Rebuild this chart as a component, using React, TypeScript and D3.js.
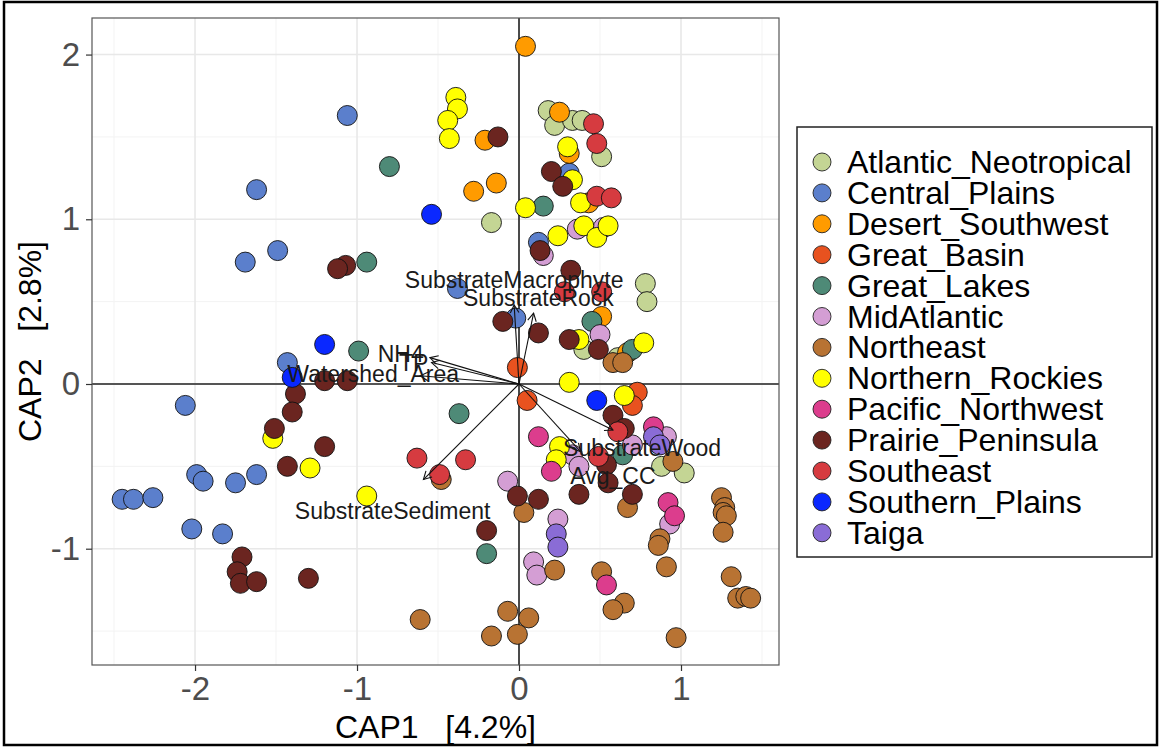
import React, { useEffect, useRef } from "react";
import * as d3 from "d3";

// CAP ordination, sites coloured by ecoregion
const regions = [
  "Atlantic_Neotropical", "Central_Plains", "Desert_Southwest", "Great_Basin",
  "Great_Lakes", "MidAtlantic", "Northeast", "Northern_Rockies",
  "Pacific_Northwest", "Prairie_Peninsula", "Southeast", "Southern_Plains", "Taiga",
];
const regionColors = [
  "#c4d594", "#5b7fcc", "#ff9b00", "#e8521f", "#4e8a77", "#d49ed4", "#b87333",
  "#ffff00", "#dc3d8d", "#6b2520", "#d63b40", "#0a28ff", "#8a6cd6",
];

// [CAP1, CAP2] per site
const atlanticNeotropical = [
  [0.18, 1.66], [0.22, 1.57], [0.33, 1.6], [0.39, 1.6], [0.51, 1.38], [-0.17, 0.98],
  [0.78, 0.61], [0.79, 0.5], [0.61, 0.16], [0.4, 0.21], [0.88, -0.5], [1.02, -0.54],
];
const centralPlains = [
  [-1.06, 1.63], [-1.62, 1.18], [-1.49, 0.81], [-1.69, 0.74], [-0.38, 0.58], [-1.43, 0.13],
  [-2.06, -0.13], [-1.99, -0.55], [-1.95, -0.59], [-1.75, -0.6], [-1.62, -0.55],
  [-2.45, -0.7], [-2.38, -0.7], [-2.26, -0.69], [-2.02, -0.88], [-1.83, -0.91],
  [0.12, 0.86], [-0.02, 0.4], [0.31, 1.28],
];
const desertSouthwest = [
  [0.04, 2.05], [-0.21, 1.48], [-0.14, 1.22], [-0.28, 1.17], [0.25, 1.65],
  [0.31, 1.4], [0.43, 1.1], [0.51, 0.41], [0.67, 0.19],
];
const greatBasin = [[-0.01, 0.1], [0.05, -0.1], [0.73, -0.05], [0.7, -0.13]];
const greatLakes = [
  [-0.8, 1.32], [-0.94, 0.74], [-0.99, 0.2], [0.15, 1.08], [-0.37, -0.18],
  [-0.2, -1.03], [0.45, 0.38], [0.64, -0.43], [0.7, 0.21],
];
const midAtlantic = [
  [0.36, 0.94], [0.52, 0.95], [0.15, 0.78], [0.5, 0.3], [0.33, -0.43], [0.37, -0.5],
  [0.7, -0.37], [0.91, -0.32], [-0.07, -0.59], [0.93, -0.85], [0.24, -0.82],
  [0.09, -1.08], [0.11, -1.16],
];
const northeast = [
  [-0.61, -1.43], [-0.48, -0.58], [0.58, 0.13], [0.64, 0.13], [0.95, -0.47], [0.03, -0.78],
  [0.67, -0.75], [0.87, -0.94], [0.86, -0.98], [1.25, -0.69], [1.27, -0.75], [1.26, -0.78],
  [1.28, -0.8], [1.26, -0.9], [0.22, -1.13], [0.51, -1.14], [0.91, -1.11], [1.31, -1.17],
  [1.35, -1.3], [1.4, -1.29], [1.43, -1.3], [0.65, -1.33], [0.58, -1.37], [-0.07, -1.38],
  [0.06, -1.42], [-0.17, -1.53], [-0.01, -1.52], [0.97, -1.54],
];
const northernRockies = [
  [-0.39, 1.74], [-0.38, 1.67], [-0.44, 1.6], [-0.43, 1.49], [0.04, 1.07], [0.3, 1.44],
  [0.33, 1.24], [0.38, 1.1], [0.4, 0.96], [0.48, 0.89], [0.55, 0.96], [0.24, 0.9],
  [0.37, 0.27], [0.77, 0.25], [0.31, 0.01], [0.65, -0.07], [0.25, -0.38], [0.23, -0.46],
  [-1.52, -0.33], [-1.29, -0.51], [-0.94, -0.68],
];
const pacificNorthwest = [
  [0.12, -0.32], [0.2, -0.53], [0.83, -0.26], [0.92, -0.72], [0.96, -0.8], [0.54, -1.22],
];
const prairiePeninsula = [
  [-1.07, 0.72], [-1.12, 0.7], [-1.2, 0.02], [-1.06, 0.02], [-1.38, -0.06], [-1.4, -0.17],
  [-1.51, -0.27], [-1.2, -0.38], [-1.43, -0.5], [-1.71, -1.05], [-1.74, -1.14],
  [-1.72, -1.21], [-1.62, -1.2], [-1.3, -1.18], [-0.13, 1.5], [0.2, 1.29], [0.27, 1.2],
  [0.13, 0.81], [0.32, 0.69], [-0.1, 0.38], [0.12, 0.31], [0.31, 0.27], [0.49, 0.21],
  [0.58, -0.19], [0.65, -0.27], [0.54, -0.49], [0.55, -0.6], [-0.01, -0.68], [0.12, -0.7],
  [0.37, -0.67], [0.7, -0.67], [-0.2, -0.89],
];
const southeast = [
  [-0.63, -0.45], [-0.49, -0.55], [-0.33, -0.46], [0.46, 1.58], [0.48, 1.46], [0.48, 1.14],
  [0.57, 1.13], [0.28, 0.56], [0.51, 0.56], [0.61, -0.29], [0.49, -0.44],
];
const southernPlains = [[-0.54, 1.03], [-1.2, 0.24], [-1.4, 0.04], [0.48, -0.1]];
const taiga = [[0.83, -0.32], [0.87, -0.37], [0.23, -0.91], [0.24, -0.99]];

const pointsByRegion = [
  atlanticNeotropical, centralPlains, desertSouthwest, greatBasin, greatLakes, midAtlantic,
  northeast, northernRockies, pacificNorthwest, prairiePeninsula, southeast, southernPlains, taiga,
];

// environmental vectors
const vectorNames = [
  "SubstrateMacrophyte", "SubstrateRock", "NH4", "TP", "Watershed_Area",
  "SubstrateSediment", "SubstrateWood", "Avg_CC",
];
const vectorTips = [
  [-0.03, 0.48], [0.09, 0.43], [-0.55, 0.16], [-0.54, 0.13], [-0.61, 0.05],
  [-0.59, -0.58], [0.58, -0.28], [0.38, -0.41],
];
const vectorLabels = [
  [-0.03, 0.63], [0.12, 0.52], [-0.73, 0.18], [-0.65, 0.13], [-0.9, 0.06],
  [-0.78, -0.77], [0.76, -0.39], [0.58, -0.56],
];

const xTicks = [-2, -1, 0, 1];
const yTicks = [-1, 0, 1, 2];
const xMinor = [-2.5, -1.5, -0.5, 0.5, 1.5];
const yMinor = [-1.5, -0.5, 0.5, 1.5];

const W = 1160;
const H = 747;
const FONT = "'Liberation Sans', Arial, sans-serif";

export default function App() {
  const ref = useRef<SVGSVGElement>(null);

  useEffect(() => {
    const svg = d3.select(ref.current);
    svg.selectAll("*").remove();

    const panel = { left: 92, right: 779, top: 18, bottom: 665 };
    const x = d3.scaleLinear().domain([-2.636, 1.605]).range([panel.left, panel.right]);
    const y = d3.scaleLinear().domain([-1.706, 2.222]).range([panel.bottom, panel.top]);

    // outer frame
    svg.append("rect")
      .attr("x", 4).attr("y", 2).attr("width", W - 7).attr("height", H - 4)
      .attr("fill", "white").attr("stroke", "black").attr("stroke-width", 2.5);

    const g = svg.append("g");

    // grid
    g.selectAll(".minx").data(xMinor).join("line")
      .attr("x1", (d) => x(d)).attr("x2", (d) => x(d))
      .attr("y1", panel.top).attr("y2", panel.bottom)
      .attr("stroke", "#f3f3f3").attr("stroke-width", 1);
    g.selectAll(".miny").data(yMinor).join("line")
      .attr("y1", (d) => y(d)).attr("y2", (d) => y(d))
      .attr("x1", panel.left).attr("x2", panel.right)
      .attr("stroke", "#f3f3f3").attr("stroke-width", 1);
    g.selectAll(".majx").data(xTicks).join("line")
      .attr("x1", (d) => x(d)).attr("x2", (d) => x(d))
      .attr("y1", panel.top).attr("y2", panel.bottom)
      .attr("stroke", "#e8e8e8").attr("stroke-width", 1.6);
    g.selectAll(".majy").data(yTicks).join("line")
      .attr("y1", (d) => y(d)).attr("y2", (d) => y(d))
      .attr("x1", panel.left).attr("x2", panel.right)
      .attr("stroke", "#e8e8e8").attr("stroke-width", 1.6);

    // zero lines
    g.append("line").attr("x1", x(0)).attr("x2", x(0))
      .attr("y1", panel.top).attr("y2", panel.bottom)
      .attr("stroke", "#222").attr("stroke-width", 1.6);
    g.append("line").attr("y1", y(0)).attr("y2", y(0))
      .attr("x1", panel.left).attr("x2", panel.right)
      .attr("stroke", "#222").attr("stroke-width", 1.6);

    // points
    pointsByRegion.forEach((pts, i) => {
      g.append("g").selectAll("circle").data(pts).join("circle")
        .attr("cx", (d) => x(d[0])).attr("cy", (d) => y(d[1]))
        .attr("r", 10)
        .attr("fill", regionColors[i])
        .attr("stroke", "#111").attr("stroke-width", 0.9);
    });

    // vectors
    vectorTips.forEach((t) => {
      const x0 = x(0), y0 = y(0), x1 = x(t[0]), y1 = y(t[1]);
      const ang = Math.atan2(y1 - y0, x1 - x0);
      const len = 9, spread = 0.5;
      const a1 = [x1 - len * Math.cos(ang - spread), y1 - len * Math.sin(ang - spread)];
      const a2 = [x1 - len * Math.cos(ang + spread), y1 - len * Math.sin(ang + spread)];
      g.append("line").attr("x1", x0).attr("y1", y0).attr("x2", x1).attr("y2", y1)
        .attr("stroke", "#111").attr("stroke-width", 1.1);
      g.append("path")
        .attr("d", `M${a1[0]},${a1[1]}L${x1},${y1}L${a2[0]},${a2[1]}`)
        .attr("fill", "none").attr("stroke", "#111").attr("stroke-width", 1.1);
    });
    g.selectAll(".vlab").data(vectorNames).join("text")
      .attr("x", (d, i) => x(vectorLabels[i][0]))
      .attr("y", (d, i) => y(vectorLabels[i][1]))
      .attr("text-anchor", "middle").attr("dominant-baseline", "central")
      .style("font-family", FONT).style("font-size", "23px").attr("fill", "#1a1a1a")
      .text((d) => d);

    // panel border
    g.append("rect")
      .attr("x", panel.left).attr("y", panel.top)
      .attr("width", panel.right - panel.left).attr("height", panel.bottom - panel.top)
      .attr("fill", "none").attr("stroke", "#555").attr("stroke-width", 1.2);

    // axes (plain hyphen minus like the original)
    const fmt = (d: any) => String(d);
    const xAxis = svg.append("g").attr("transform", `translate(0,${panel.bottom})`)
      .call(d3.axisBottom(x).tickValues(xTicks).tickSize(6).tickPadding(6).tickFormat(fmt));
    const yAxis = svg.append("g").attr("transform", `translate(${panel.left},0)`)
      .call(d3.axisLeft(y).tickValues(yTicks).tickSize(6).tickPadding(6).tickFormat(fmt));
    [xAxis, yAxis].forEach((ax) => {
      ax.select(".domain").remove();
      ax.selectAll("line").attr("stroke", "#333").attr("stroke-width", 1.2);
      ax.selectAll("text")
        .style("font-family", FONT)
        .style("font-size", "33px").attr("fill", "#4d4d4d");
    });

    svg.append("text")
      .attr("x", (panel.left + panel.right) / 2).attr("y", 727)
      .attr("text-anchor", "middle").attr("dominant-baseline", "central")
      .style("font-family", FONT).style("font-size", "32px").style("white-space", "pre")
      .text("CAP1   [4.2%]");
    svg.append("text")
      .attr("transform", `translate(30,${(panel.top + panel.bottom) / 2}) rotate(-90)`)
      .attr("text-anchor", "middle").attr("dominant-baseline", "central")
      .style("font-family", FONT).style("font-size", "32px").style("white-space", "pre")
      .text("CAP2   [2.8%]");

    // legend
    const lg = svg.append("g");
    lg.append("rect").attr("x", 797).attr("y", 127).attr("width", 355).attr("height", 430)
      .attr("fill", "white").attr("stroke", "#222").attr("stroke-width", 1.5);
    const step = 30.9;
    lg.selectAll("circle").data(regions).join("circle")
      .attr("cx", 822).attr("cy", (d, i) => 162 + i * step).attr("r", 9)
      .attr("fill", (d, i) => regionColors[i]).attr("stroke", "#222").attr("stroke-width", 0.9);
    lg.selectAll("text").data(regions).join("text")
      .attr("x", 847).attr("y", (d, i) => 162 + i * step)
      .attr("dominant-baseline", "central")
      .style("font-family", FONT).style("font-size", "32px")
      .text((d) => d);
  }, []);

  return (
    <svg ref={ref} width={W} height={H}
      style={{ position: "absolute", left: 0, top: 0, background: "#fff" }} />
  );
}
